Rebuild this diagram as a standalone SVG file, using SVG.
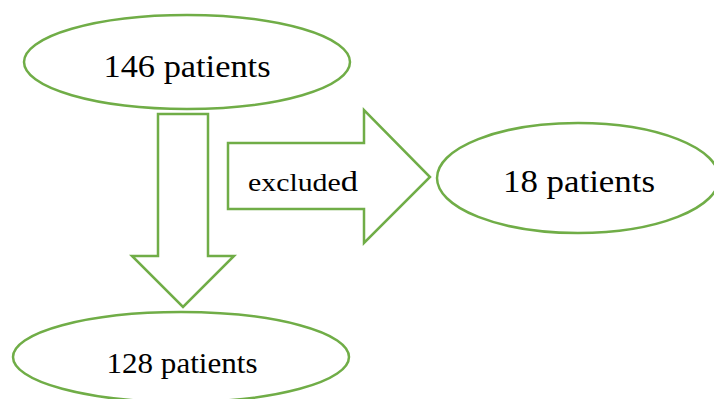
<svg xmlns="http://www.w3.org/2000/svg" width="714" height="399" viewBox="0 0 714 399">
<style>
.shape{fill:#fff;stroke:#70AD47;stroke-width:2.5}
text{fill:#000}
</style>
<rect width="714" height="399" fill="#fff"/>
<g id="node-146">
<ellipse class="shape" cx="187" cy="62" rx="163" ry="47"/>
<text font-family="'Liberation Serif', 'Times New Roman', serif" x="187" y="77" font-size="32" text-anchor="middle" textLength="167" lengthAdjust="spacingAndGlyphs">146 patients</text>
</g>
<g id="node-18">
<ellipse class="shape" cx="578" cy="178" rx="141" ry="55"/>
<text font-family="'Liberation Serif', 'Times New Roman', serif" x="579" y="192" font-size="32" text-anchor="middle" textLength="152" lengthAdjust="spacingAndGlyphs">18 patients</text>
</g>
<g id="node-128">
<ellipse class="shape" cx="181" cy="357" rx="168" ry="45"/>
<text font-family="'Liberation Serif', 'Times New Roman', serif" x="182" y="373" font-size="29" text-anchor="middle" textLength="151" lengthAdjust="spacingAndGlyphs">128 patients</text>
</g>
<g id="connectors">
<polygon class="shape" points="158,114 208,114 208,256 234,256 183,307 132,256 158,256"/>
<polygon class="shape" points="228,143 364,143 364,110 430,177 364,243 364,209 228,209"/>
<text font-family="'Liberation Serif', 'Times New Roman', serif" x="248" y="191" font-size="26" textLength="110" lengthAdjust="spacingAndGlyphs">exclude<tspan font-size="30">d</tspan></text>
</g>
</svg>
